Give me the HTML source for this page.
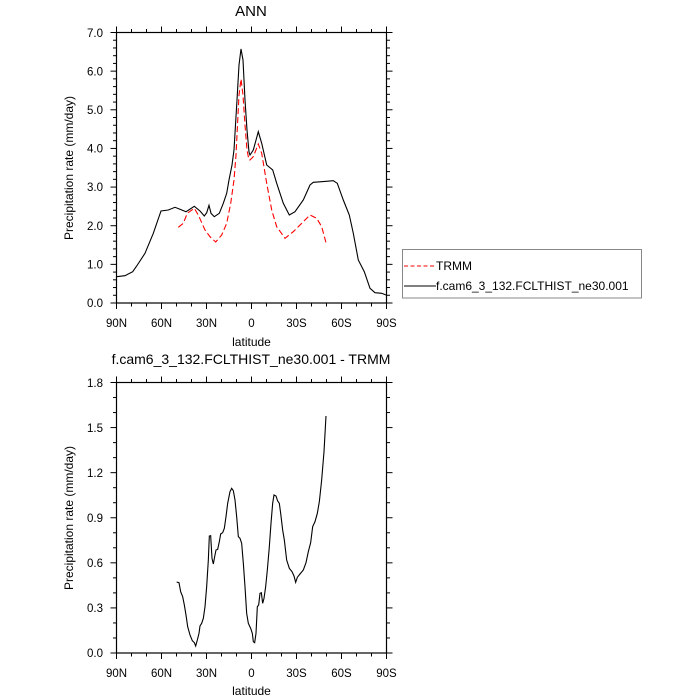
<!DOCTYPE html>
<html><head><meta charset="utf-8"><style>
html,body{margin:0;padding:0;background:#fff;}
svg{display:block;font-family:"Liberation Sans",sans-serif;}
</style></head><body>
<svg id="s" width="700" height="700" viewBox="0 0 700 700" xmlns="http://www.w3.org/2000/svg">
<rect width="700" height="700" fill="#fff"/>
<text x="251" y="16" font-size="15" text-anchor="middle">ANN</text>
<text x="251" y="364" font-size="14" text-anchor="middle">f.cam6_3_132.FCLTHIST_ne30.001 - TRMM</text>
<g id="ticks" stroke="#000" stroke-width="1"></g>
<rect x="116.5" y="32.5" width="270" height="270.5" fill="none" stroke="#000" stroke-width="1.2"/>
<rect x="116.5" y="382.5" width="270" height="270.5" fill="none" stroke="#000" stroke-width="1.2"/>
<g font-size="11.5" text-anchor="end">
<text x="103" y="307">0.0</text><text x="103" y="268.4">1.0</text><text x="103" y="229.8">2.0</text><text x="103" y="191.2">3.0</text><text x="103" y="152.6">4.0</text><text x="103" y="114">5.0</text><text x="103" y="75.4">6.0</text><text x="103" y="37">7.0</text>
<text x="103" y="657">0.0</text><text x="103" y="612">0.3</text><text x="103" y="567">0.6</text><text x="103" y="522">0.9</text><text x="103" y="477">1.2</text><text x="103" y="432">1.5</text><text x="103" y="387">1.8</text>
</g>
<g font-size="11.5" text-anchor="middle">
<text x="116.5" y="327">90N</text><text x="161.5" y="327">60N</text><text x="206.5" y="327">30N</text><text x="251.5" y="327">0</text><text x="296.5" y="327">30S</text><text x="341.5" y="327">60S</text><text x="386.5" y="327">90S</text>
<text x="116.5" y="677">90N</text><text x="161.5" y="677">60N</text><text x="206.5" y="677">30N</text><text x="251.5" y="677">0</text><text x="296.5" y="677">30S</text><text x="341.5" y="677">60S</text><text x="386.5" y="677">90S</text>
<text x="251.5" y="346" font-size="12">latitude</text>
<text x="251.5" y="695" font-size="12">latitude</text>
<text transform="translate(73,168) rotate(-90)" font-size="12">Precipitation rate (mm/day)</text>
<text transform="translate(73,518) rotate(-90)" font-size="12">Precipitation rate (mm/day)</text>
</g>
<g fill="none" stroke-width="1.1">
<polyline stroke="#000" points="116.5,276.7 125,275.7 132.7,271.7 136.7,266 145,253.3 153.3,233.3 161,211 168.3,210 175,207.3 180,209.3 186,211.7 194.3,206.3 200,211 204.3,216 206.7,212.7 209,205.3 211,213.3 214.3,216.7 219.3,213.3 223.3,203.3 226.7,193.3 229,180 232,165 234,150 237,100 239,65 241,49 243,60 245,100 247,130 249,152 250,155 253.3,150 258.3,131.7 261.7,143.3 266.7,165 272.7,170 276.7,183.3 283.3,203.3 289.3,215 295,211.7 303.3,200 310,185 313.3,182.3 321.7,181.7 333.3,180.7 337.3,183.3 343.3,200 349.3,215 353.3,233.3 358.3,260 364.3,271.7 370,288.3 375,292.7 381.7,293.3 386,295"/>
<polyline stroke="#f00" stroke-dasharray="6,3" points="178.3,227.3 183.3,223.3 187.3,213.3 194.3,208.3 198.3,215 205,230 210,236.7 215.7,242 221.7,235 226.7,223.3 230.7,203.3 234,180 236,155 237.5,125 239,95 241,79 243,95 245,125 247,150 249,160 250,160 253.3,156.7 258.3,144 261.7,153.3 266.7,183.3 271.7,210 276.7,226.7 285,238.3 293.3,231.7 301.7,223.3 310,215 316.7,218.3 321.7,226.7 326,242.7"/>
</g>
<g transform="translate(60,370) scale(0.33333)" fill="none">
<polyline vector-effect="non-scaling-stroke" stroke="#000" stroke-width="1.1" points="350,636 357,638 362,665 368,680 373,705 378,735 383,770 390,795 397,812 403,818 407,828 412,810 417,790 420,768 425,760 430,745 435,710 440,650 445,570 448,498 452,497 456,565 460,582 464,560 468,540 473,538 478,515 482,492 488,488 493,475 498,440 503,400 510,365 515,355 520,362 525,390 530,440 535,500 540,505 545,520 550,580 555,650 560,730 565,760 572,775 577,790 580,815 584,818 588,790 592,710 596,705 600,670 604,668 608,700 612,685 617,650 622,600 628,530 633,460 638,400 642,375 648,378 653,393 658,400 662,430 668,480 673,510 680,570 688,595 696,605 702,618 707,637 712,622 720,612 730,600 738,578 745,545 752,518 758,470 765,455 772,430 778,395 785,330 792,245 798,138"/>
</g>
<rect x="402.5" y="249.5" width="239" height="48.5" fill="#fff" stroke="#888" stroke-width="1"/>
<line x1="404" y1="266" x2="436" y2="266" stroke="#f00" stroke-dasharray="4,2.5" stroke-width="1.1"/>
<line x1="404" y1="286" x2="436" y2="286" stroke="#000" stroke-width="1.1"/>
<text x="436" y="270" font-size="12">TRMM</text>
<text x="436" y="290" font-size="12">f.cam6_3_132.FCLTHIST_ne30.001</text>
</svg>
<script>
(function(){
var g=document.getElementById('ticks'),h='';
function L(a,b,c,d){h+='<line x1="'+a+'" y1="'+b+'" x2="'+c+'" y2="'+d+'"/>';}
[[32.5,303],[382.5,653]].forEach(function(p){
 var t=p[0],b=p[1];
 for(var i=0;i<=18;i++){var x=116.5+i*15,maj=i%3==0,l=maj?6:3.5;
  L(x,b,x,b+l);L(x,t,x,t-l);}
});
for(var i=0;i<=35;i++){var y=303-i*(270.5/35),maj=i%5==0,l=maj?6:3.5;L(116.5,y,116.5-l,y);L(386.5,y,386.5+l,y);}
for(var i=0;i<=18;i++){var y=653-i*(270.5/18),maj=i%3==0,l=maj?6:3.5;L(116.5,y,116.5-l,y);L(386.5,y,386.5+l,y);}
g.innerHTML=h;
})();
</script>
</body></html>
